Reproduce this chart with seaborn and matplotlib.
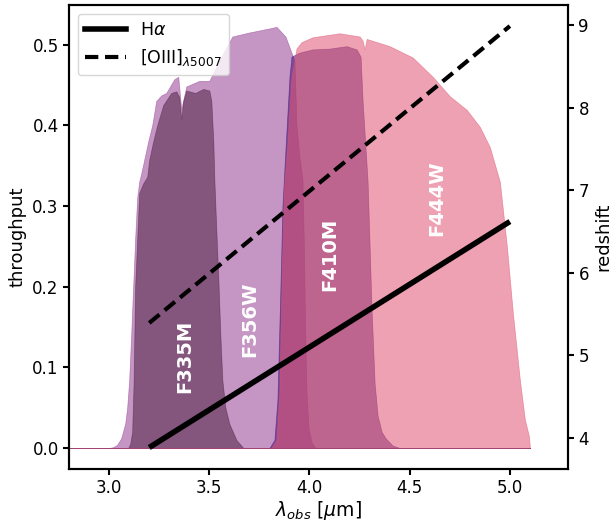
import numpy as np
import pandas as pd
import matplotlib
matplotlib.use("Agg")
import matplotlib.pyplot as plt
from matplotlib.lines import Line2D
import seaborn as sns

# ---------------- data ----------------
filter_names = ["F356W", "F335M", "F410M", "F444W"]

f356w_lam = [2.70, 3.00, 3.02, 3.04, 3.06, 3.08, 3.09, 3.10, 3.11, 3.12, 3.13, 3.14,
             3.15, 3.16, 3.175, 3.195, 3.215, 3.235, 3.26, 3.285, 3.325, 3.345, 3.36,
             3.385, 3.45, 3.50, 3.55, 3.615, 3.70, 3.80, 3.835, 3.88, 3.91, 3.925,
             3.935, 3.95, 3.965, 3.972, 3.978, 3.985, 3.995, 4.01, 4.03, 5.10]
f356w_thr = [0.0, 0.0, 0.001, 0.004, 0.012, 0.03, 0.05, 0.084, 0.14, 0.20, 0.26, 0.31,
             0.33, 0.34, 0.357, 0.38, 0.40, 0.43, 0.437, 0.44, 0.457, 0.46, 0.42,
             0.448, 0.455, 0.455, 0.48, 0.51, 0.515, 0.52, 0.522, 0.51, 0.49, 0.48,
             0.40, 0.36, 0.333, 0.25, 0.15, 0.07, 0.025, 0.007, 0.0, 0.0]

f335m_lam = [2.70, 3.095, 3.105, 3.115, 3.122, 3.13, 3.15, 3.17, 3.19, 3.20, 3.22, 3.24,
             3.27, 3.31, 3.335, 3.35, 3.36, 3.37, 3.385, 3.43, 3.47, 3.50, 3.51, 3.52,
             3.525, 3.535, 3.545, 3.555, 3.565, 3.58, 3.60, 3.635, 3.67, 5.10]
f335m_thr = [0.0, 0.0, 0.005, 0.02, 0.08, 0.20, 0.316, 0.328, 0.336, 0.357, 0.38, 0.40,
             0.425, 0.44, 0.442, 0.435, 0.407, 0.43, 0.443, 0.44, 0.445, 0.443, 0.43, 0.38,
             0.333, 0.27, 0.21, 0.14, 0.084, 0.05, 0.03, 0.01, 0.0, 0.0]

f410m_lam = [2.70, 3.80, 3.825, 3.84, 3.855, 3.865, 3.88, 3.90, 3.91, 3.95, 4.015, 4.10,
             4.185, 4.235, 4.255, 4.265, 4.29, 4.31, 4.325, 4.34, 4.36, 4.38, 4.415,
             4.45, 5.10]
f410m_thr = [0.0, 0.0, 0.01, 0.06, 0.20, 0.30, 0.37, 0.46, 0.485, 0.49, 0.494, 0.495,
             0.498, 0.494, 0.485, 0.43, 0.33, 0.17, 0.08, 0.04, 0.02, 0.012, 0.003,
             0.0, 0.0]

f444w_lam = [2.70, 3.81, 3.835, 3.85, 3.862, 3.872, 3.888, 3.91, 3.935, 3.96, 4.015, 4.15,
             4.25, 4.265, 4.275, 4.285, 4.40, 4.515, 4.615, 4.70, 4.785, 4.85, 4.90,
             4.95, 4.985, 5.015, 5.05, 5.075, 5.095, 5.10]
f444w_thr = [0.0, 0.0, 0.01, 0.07, 0.22, 0.32, 0.37, 0.46, 0.495, 0.503, 0.509, 0.514,
             0.51, 0.505, 0.494, 0.507, 0.498, 0.484, 0.46, 0.436, 0.419, 0.398, 0.373,
             0.33, 0.25, 0.167, 0.084, 0.035, 0.015, 0.0]

# redshift of the two emission lines at the ends of the plotted range
line_lam = [3.2, 5.0]
z_halpha = [3.88, 6.62]
z_oiii = [5.39, 8.99]

# label positions (wavelength, throughput)
label_lam = [3.70, 3.375, 4.10, 4.635]
label_thr = [0.16, 0.113, 0.24, 0.31]

# ---------------- style ----------------
plt.rcParams.update({
    "font.family": ["DejaVu Sans"],
    "font.size": 12,
    "axes.linewidth": 1.5,
    "xtick.major.width": 1.5,
    "ytick.major.width": 1.5,
    "xtick.major.size": 4,
    "ytick.major.size": 4,
    "xtick.labelsize": 12,
    "ytick.labelsize": 12,
    "axes.labelsize": 13,
})

colors = {"F356W": "#964094", "F335M": "#4f2246", "F410M": "#410d76", "F444W": "#e05573"}
curves = {
    "F356W": (f356w_lam, f356w_thr),
    "F335M": (f335m_lam, f335m_thr),
    "F410M": (f410m_lam, f410m_thr),
    "F444W": (f444w_lam, f444w_thr),
}

fig = plt.figure(figsize=(6.11, 5.23), dpi=100)
ax = fig.add_axes([0.113, 0.1033, 0.8166, 0.8871])

for name in filter_names:
    lam, thr = curves[name]
    ax.fill_between(lam, thr, color=colors[name], alpha=0.55, lw=0.5)

for name, lx, ly in zip(filter_names, label_lam, label_thr):
    ax.text(lx, ly, name, rotation=90, color="white", fontweight="bold",
            fontsize=14, ha="center", va="center")

ax.set_xlim(2.8, 5.29)
ax.set_ylim(-0.026, 0.549)
ax.set_xticks([3.0, 3.5, 4.0, 4.5, 5.0])
ax.set_yticks([0.0, 0.1, 0.2, 0.3, 0.4, 0.5])
ax.set_xlabel(r"$\lambda_{obs}$ [$\mu$m]", labelpad=1, fontsize=13.5)
ax.set_ylabel("throughput")

ax2 = ax.twinx()
df = pd.DataFrame({
    "lam": line_lam * 2,
    "z": z_halpha + z_oiii,
    "line": [r"H$\alpha$"] * 2 + [r"[OIII]$_{\lambda5007}$"] * 2,
})
sns.lineplot(data=df, x="lam", y="z", style="line", ax=ax2, color="black",
             linewidth=4, dashes=[(1, 0), (3.2, 1.6)], legend=False)
ax2.lines[1].set_linewidth(3)
ax2.set_ylim(3.62, 9.245)
ax2.set_yticks([4, 5, 6, 7, 8, 9])
ax2.set_ylabel("redshift")
ax2.set_xlabel("")

handles = [Line2D([], [], color="black", lw=4),
           Line2D([], [], color="black", lw=3, ls=(0, (3.2, 1.6)))]
ax2.legend(handles, [r"H$\alpha$", r"[OIII]$_{\lambda5007}$"], loc="upper left",
           fontsize=12.5, handlelength=2.4)
ax2.set_xlim(2.8, 5.29)

fig.savefig("out.png", dpi=100)
